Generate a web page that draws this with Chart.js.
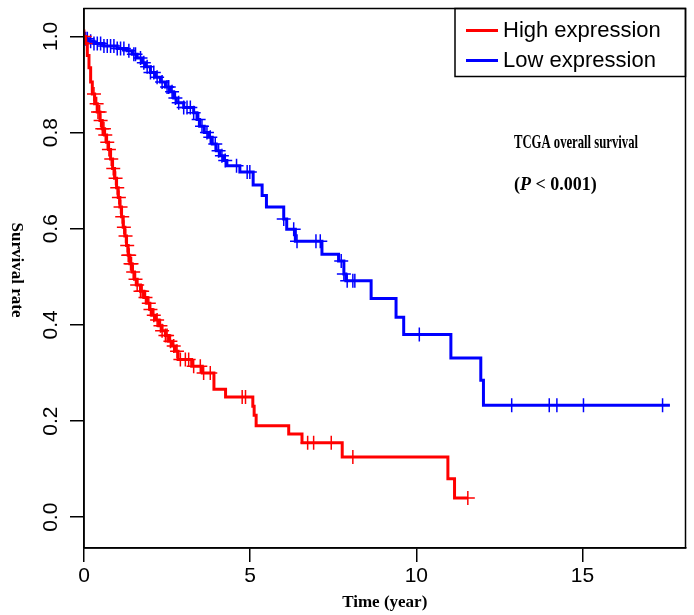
<!DOCTYPE html>
<html>
<head>
<meta charset="utf-8">
<script src="https://cdn.jsdelivr.net/npm/chart.js@4.4.1/dist/chart.umd.min.js"></script>
<style>
  html, body { margin: 0; padding: 0; background: #fff; }
  #wrap { width: 694px; height: 615px; position: relative; }
</style>
</head>
<body>
<div id="wrap"><canvas id="km"></canvas></div>
<script>
// Kaplan-Meier steps: event time (years) and survival after it
const highTimes = [0, 0.05, 0.1, 0.15, 0.2, 0.25, 0.32, 0.4, 0.48, 0.55, 0.62, 0.68, 0.74, 0.8, 0.86, 0.92, 0.98,
	1.03, 1.08, 1.13, 1.18, 1.23, 1.28, 1.33, 1.38, 1.45, 1.52, 1.6, 1.7, 1.8, 1.9, 1.98, 2.05, 2.15, 2.25,
	2.35, 2.45, 2.55, 2.65, 2.75, 2.83, 3.24, 3.56, 3.91, 4.26, 5.08, 5.12, 5.18, 6.16, 6.56, 7.77, 10.95, 11.15, 11.55];
const highSurv = [1.0, 0.985, 0.96, 0.935, 0.905, 0.88, 0.86, 0.843, 0.825, 0.808, 0.795, 0.78, 0.765, 0.745, 0.725, 0.705, 0.685,
	0.665, 0.645, 0.625, 0.603, 0.585, 0.565, 0.545, 0.527, 0.51, 0.495, 0.483, 0.47, 0.457, 0.445, 0.432, 0.42, 0.41, 0.398,
	0.388, 0.378, 0.366, 0.356, 0.345, 0.328, 0.314, 0.3, 0.266, 0.25, 0.231, 0.212, 0.19, 0.173, 0.155, 0.125, 0.08, 0.04, 0.04];
const highCensor = [0.02, 0.08, 0.3, 0.38, 0.42, 0.47, 0.5, 0.55, 0.6, 0.64, 0.7, 0.75, 0.82, 0.88, 0.95, 1.0, 1.05, 1.1,
	1.15, 1.2, 1.25, 1.3, 1.33, 1.36, 1.4, 1.43, 1.48, 1.55, 1.6, 1.7, 1.75, 1.85, 1.95, 2.0, 2.1, 2.2, 2.3, 2.35, 2.45,
	2.5, 2.6, 2.7, 2.8, 2.9, 3.05, 3.15, 3.3, 3.5, 3.6, 3.8, 4.76, 4.86, 6.73, 6.91, 7.44, 8.09, 11.55];

const lowTimes = [0, 0.05, 0.15, 0.3, 0.6, 1.0, 1.3, 1.45, 1.6, 1.75, 1.85, 2.0, 2.15, 2.3, 2.45, 2.6, 2.7, 2.78, 3.0,
	3.3, 3.4, 3.48, 3.62, 3.75, 3.86, 3.98, 4.08, 4.2, 4.3, 4.69, 5.09, 5.36, 5.49, 6.01, 6.1, 6.36, 7.16, 7.66, 7.82,
	7.88, 8.64, 9.39, 9.62, 11.04, 11.94, 12.02, 17.63];
const lowSurv = [1.0, 0.995, 0.99, 0.985, 0.98, 0.975, 0.97, 0.963, 0.955, 0.945, 0.937, 0.925, 0.915, 0.905, 0.895, 0.885, 0.872, 0.862, 0.852,
	0.841, 0.827, 0.813, 0.8, 0.79, 0.776, 0.762, 0.752, 0.742, 0.731, 0.718, 0.691, 0.669, 0.645, 0.62, 0.599, 0.574, 0.547, 0.533, 0.506,
	0.492, 0.455, 0.416, 0.38, 0.331, 0.285, 0.233, 0.233];
const lowCensor = [0.05, 0.1, 0.2, 0.3, 0.4, 0.5, 0.6, 0.7, 0.8, 0.9, 1.0, 1.1, 1.2, 1.35, 1.5, 1.55, 1.7, 1.8, 1.9, 2.0,
	2.1, 2.2, 2.35, 2.5, 2.55, 2.65, 2.75, 2.85, 3.0, 3.1, 3.2, 3.3, 3.45, 3.55, 3.7, 3.8, 3.95, 4.05, 4.15, 4.25, 4.59,
	4.91, 4.99, 6.01, 6.31, 6.41, 6.98, 7.11, 7.74, 7.82, 7.92, 8.09, 8.15, 10.09, 12.87, 14.0, 14.23, 15.03, 17.41];

const groupNames = ['High expression', 'Low expression'];
const xTicks = [0, 5, 10, 15];
const yTicks = [0, 0.2, 0.4, 0.6, 0.8, 1.0];

// survival level of a step curve at time t (used to hang the censor marks on the curve)
function levelAt(times, surv, t) {
	let s = surv[0];
	for (let i = 0; i < times.length; i++) {
		if (times[i] <= t) s = surv[i];
	}
	return s;
}

const stepPoints = (times, surv) => times.map((t, i) => ({ x: t, y: surv[i] }));
const censorPoints = (times, surv, cens) => cens.map(t => ({ x: t, y: levelAt(times, surv, t) }));

const RED = '#ff0000', BLUE = '#0000ff';
const SERIF = '"Liberation Serif", "Times New Roman", serif';

const decor = {
	id: 'decor',
	afterDraw(chart) {
		const ctx = chart.ctx, ca = chart.chartArea;
		ctx.save();
		// box round the plot
		ctx.strokeStyle = '#000';
		ctx.lineWidth = 1.5;
		ctx.strokeRect(ca.left, ca.top, ca.right - ca.left, ca.bottom - ca.top);

		// legend
		ctx.strokeRect(455, ca.top, ca.right - 455, 68);
		const items = [chart.data.datasets[0], chart.data.datasets[1]];
		items.forEach((ds, i) => {
			const y = ca.top + 22 + i * 30;
			ctx.strokeStyle = ds.borderColor;
			ctx.lineWidth = 3;
			ctx.beginPath();
			ctx.moveTo(466, y);
			ctx.lineTo(498, y);
			ctx.stroke();
			ctx.fillStyle = '#000';
			ctx.font = '22px "Liberation Sans", Arial, sans-serif';
			ctx.textBaseline = 'middle';
			ctx.fillText(ds.label, 503, y);
		});

		// annotation
		ctx.fillStyle = '#000';
		ctx.textBaseline = 'middle';
		ctx.font = 'bold 19px ' + SERIF;
		const head = 'TCGA overall survival';
		const sx = 124 / ctx.measureText(head).width;
		ctx.save();
		ctx.translate(514, 143);
		ctx.scale(sx, 1);
		ctx.fillText(head, 0, 0);
		ctx.restore();
		let x = 514;
		const parts = [['(', 'bold'], ['P', 'italic bold'], [' < 0.001)', 'bold']];
		parts.forEach(([txt, st]) => {
			ctx.font = st + ' 18px ' + SERIF;
			ctx.fillText(txt, x, 185);
			x += ctx.measureText(txt).width;
		});

		// y axis title, reading downwards
		ctx.translate(16, 270);
		ctx.rotate(Math.PI / 2);
		ctx.textAlign = 'center';
		ctx.font = 'bold 17px ' + SERIF;
		ctx.fillText('Survival rate', 0, 0);
		ctx.restore();
	}
};

document.addEventListener('DOMContentLoaded', () => {
	const ctx = document.querySelector('#km');
	const tickFont = { family: '"Liberation Sans", Arial, sans-serif', size: 21 };

	new Chart(ctx, {
		type: 'line',
		data: {
			datasets: [{
				label: groupNames[0],
				data: stepPoints(highTimes, highSurv),
				borderColor: RED,
				borderWidth: 3,
				stepped: true,
				pointRadius: 0,
				fill: false
			}, {
				label: groupNames[1],
				data: stepPoints(lowTimes, lowSurv),
				borderColor: BLUE,
				borderWidth: 3,
				stepped: true,
				pointRadius: 0,
				fill: false
			}, {
				label: 'high censored',
				data: censorPoints(highTimes, highSurv, highCensor),
				showLine: false,
				pointStyle: 'cross',
				pointRadius: 7,
				borderColor: RED,
				borderWidth: 1.5
			}, {
				label: 'low censored',
				data: censorPoints(lowTimes, lowSurv, lowCensor),
				showLine: false,
				pointStyle: 'cross',
				pointRadius: 7,
				borderColor: BLUE,
				borderWidth: 1.5
			}]
		},
		options: {
			responsive: true,
			maintainAspectRatio: false,
			animation: false,
			layout: { padding: { top: 5, right: 8, left: 0, bottom: 0 } },
			plugins: {
				legend: { display: false },
				tooltip: { enabled: false }
			},
			scales: {
				x: {
					type: 'linear',
					min: 0,
					max: 18.1,
					afterBuildTicks: axis => { axis.ticks = xTicks.map(v => ({ value: v })); },
					afterFit: axis => { axis.height = 67; axis.paddingLeft = 0; axis.paddingRight = 0; },
					grid: { drawOnChartArea: false, tickLength: 14, color: '#000', lineWidth: 1.5 },
					border: { display: true, color: '#000', width: 1.5 },
					ticks: { font: tickFont, color: '#000', padding: 2, maxRotation: 0 },
					title: {
						display: true,
						text: 'Time (year)',
						color: '#000',
						font: { family: SERIF, size: 17, weight: 'bold' },
						padding: { top: 0, bottom: 2 }
					}
				},
				y: {
					type: 'linear',
					min: -0.064,
					max: 1.058,
					afterBuildTicks: axis => { axis.ticks = yTicks.map(v => ({ value: v })); },
					afterFit: axis => { axis.width = 84; axis.paddingTop = 0; axis.paddingBottom = 0; },
					grid: { drawOnChartArea: false, tickLength: 14, color: '#000', lineWidth: 1.5 },
					border: { display: true, color: '#000', width: 1.5 },
					ticks: {
						font: tickFont,
						color: '#000',
						padding: 4,
						minRotation: 90,
						maxRotation: 90,
						crossAlign: 'center',
						callback: v => v.toFixed(1)
					}
				}
			}
		},
		plugins: [decor]
	});
});
</script>
</body>
</html>
